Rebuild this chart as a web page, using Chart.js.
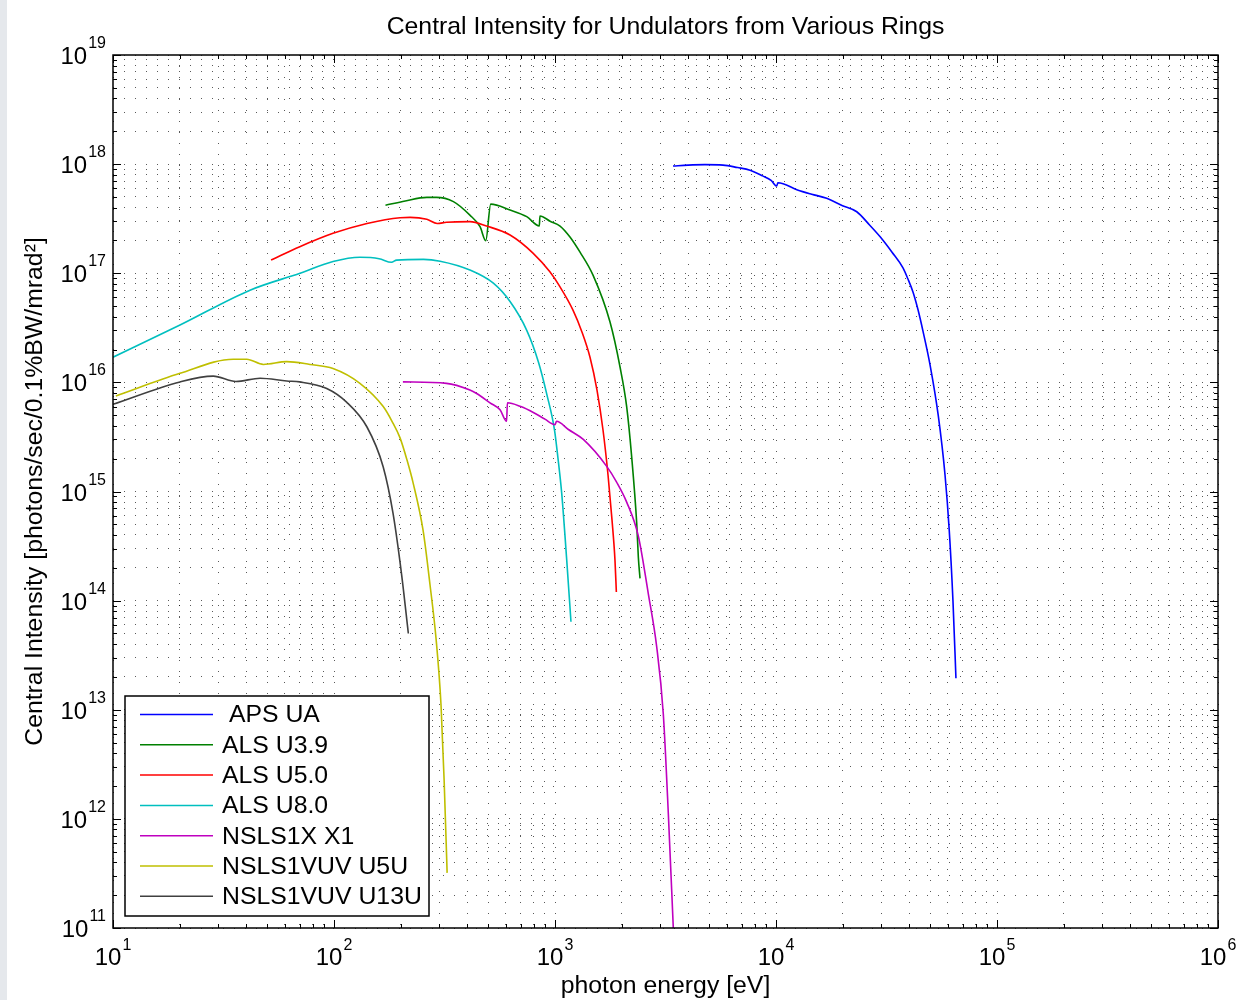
<!DOCTYPE html>
<html>
<head>
<meta charset="utf-8">
<title>Central Intensity for Undulators from Various Rings</title>
<script src="https://cdn.jsdelivr.net/npm/chart.js@4.4.1/dist/chart.umd.min.js"></script>
<style>
  html, body { margin: 0; padding: 0; }
  body { width: 1239px; height: 1000px; background: linear-gradient(to right, #e5e8ec 0, #e5e8ec 7px, #ffffff 7px); }
  #wrap { position: relative; width: 1239px; height: 1000px; }
</style>
</head>
<body>
<div id="wrap"><canvas id="chart" width="1239" height="1000"></canvas></div>
<script>
const FONT = '"Liberation Sans", Arial, Helvetica, sans-serif';

// axis decades (exponents of 10) and minor steps
const xDecades = [1, 2, 3, 4, 5, 6];
const yDecades = [11, 12, 13, 14, 15, 16, 17, 18, 19];
const minorSteps = [2, 3, 4, 5, 6, 7, 8, 9];

const seriesLabels = [' APS UA', 'ALS U3.9', 'ALS U5.0', 'ALS U8.0', 'NSLS1X X1', 'NSLS1VUV U5U', 'NSLS1VUV U13U'];
const seriesColors = ['#0000ff', '#008000', '#ff0000', '#00bfbf', '#bf00bf', '#bfbf00', '#404040'];

// APS UA
const apsX = [3420, 4000, 4770, 5760, 6700, 7630, 8700, 9500, 10070, 10200, 12500, 14500, 16950, 20000, 23200, 26500, 29600, 33500, 37550, 39550, 41700, 43950, 46240, 49800, 54200, 58200, 60800, 63200, 65200];
const apsY = [9.6e17, 9.8e17, 9.9e17, 9.8e17, 9.3e17, 8.8e17, 7.8e17, 7.1e17, 6.3e17, 6.75e17, 5.8e17, 5.3e17, 4.86e17, 4.16e17, 3.66e17, 2.77e17, 2.16e17, 1.56e17, 1.12e17, 8.85e16, 6.7e16, 4.6e16, 2.95e16, 1.44e16, 5.0e15, 1.41e15, 4.4e14, 1.0e14, 1.94e13];

// ALS U3.9
const u39X = [171, 210, 263, 291, 347, 412, 458, 486, 512, 626, 745, 849, 855, 950, 1054, 1169, 1298, 1486, 1774, 1968, 2110, 2222, 2343, 2383, 2425];
const u39Y = [4.2e17, 4.6e17, 4.96e17, 4.96e17, 4.53e17, 3.41e17, 2.67e17, 1.99e17, 4.3e17, 3.8e17, 3.3e17, 2.71e17, 3.35e17, 3.0e17, 2.71e17, 2.15e17, 1.56e17, 9.6e16, 3.57e16, 1.39e16, 6.0e15, 2.1e15, 5.1e14, 2.5e14, 1.6e14];

// ALS U5.0
const u50X = [51.9, 70, 99, 141, 199, 221, 263, 293, 323, 412, 490, 626, 795, 948, 1054, 1206, 1324, 1440, 1549, 1649, 1738, 1811, 1868, 1895];
const u50Y = [1.32e17, 1.75e17, 2.32e17, 2.86e17, 3.23e17, 3.25e17, 3.12e17, 2.86e17, 2.93e17, 2.97e17, 2.71e17, 2.24e17, 1.53e17, 1.03e17, 7.5e16, 4.6e16, 2.9e16, 1.7e16, 8.5e15, 3.66e15, 1.41e15, 5.5e14, 2.35e14, 1.2e14];

// ALS U8.0
const u80X = [10, 20.1, 41.7, 70.2, 99, 131, 160, 182, 192, 254, 302, 412, 526, 626, 745, 842, 920, 995, 1032, 1072, 1130, 1181];
const u80Y = [1.7e16, 3.35e16, 7.0e16, 1.0e17, 1.28e17, 1.4e17, 1.36e17, 1.26e17, 1.32e17, 1.34e17, 1.29e17, 1.07e17, 8.1e16, 5.5e16, 3.0e16, 1.53e16, 7.65e15, 3.66e15, 2.0e15, 9.7e14, 2.35e14, 6.4e13];

// NSLS1X X1
const x1X = [205, 323, 412, 442, 508, 564, 604, 609, 700, 798, 900, 1000, 1016, 1150, 1343, 1714, 1900, 2110, 2383, 2643, 2884, 3090, 3258, 3430];
const x1Y = [1.01e16, 9.8e15, 8.5e15, 7.9e15, 6.5e15, 5.6e15, 4.4e15, 6.5e15, 6.0e15, 5.3e15, 4.6e15, 4.1e15, 4.4e15, 3.7e15, 3.0e15, 1.7e15, 1.22e15, 8.0e14, 3.9e14, 1.16e14, 3.8e13, 9.2e12, 1.1e12, 1e11];

// NSLS1VUV U5U
const u5uX = [10.3, 20.1, 35.0, 40.3, 47.9, 61.1, 77.9, 99, 131, 167, 183, 199, 214, 228, 253, 272, 290, 305, 315, 325];
const u5uY = [7.5e15, 1.21e16, 1.63e16, 1.63e16, 1.46e16, 1.55e16, 1.46e16, 1.34e16, 9.8e15, 6.0e15, 4.4e15, 3.1e15, 1.94e15, 1.2e15, 4.4e14, 1.39e14, 4.35e13, 1.1e13, 2.26e12, 3.2e11];

// NSLS1VUV U13U
const u13uX = [10, 20.1, 28.4, 36.0, 46.3, 61.1, 70, 92.7, 114, 141, 167, 185, 202, 217];
const u13uY = [6.3e15, 1.01e16, 1.14e16, 1.02e16, 1.09e16, 1.03e16, 1.01e16, 8.8e15, 6.6e15, 3.9e15, 1.68e15, 6.3e14, 1.77e14, 5.0e13];

const seriesX = [apsX, u39X, u50X, u80X, x1X, u5uX, u13uX];
const seriesY = [apsY, u39Y, u50Y, u80Y, x1Y, u5uY, u13uY];

// tick lists: decades are major, 2..9 are minor
function logTicks(decades) {
    let ticks = [];
    decades.forEach((d, i) => {
        ticks.push({ value: Math.pow(10, d), major: true, exp: d });
        if (i < decades.length - 1) {
            minorSteps.forEach(m => ticks.push({ value: m * Math.pow(10, d), major: false }));
        }
    });
    return ticks;
}
const xTicks = logTicks(xDecades);
const yTicks = logTicks(yDecades);

const datasets = seriesLabels.map((label, i) => ({
    label: label,
    data: seriesX[i].map((x, j) => ({ x: x, y: seriesY[i][j] })),
    borderColor: seriesColors[i],
    backgroundColor: seriesColors[i],
    borderWidth: 1.6,
    pointRadius: 0,
    fill: false,
    cubicInterpolationMode: 'monotone',
    order: -i
}));

// box, inward ticks, superscript tick labels and legend, matlab style
const axesBox = {
    id: 'axesBox',
    afterDraw(chart) {
        const { ctx, chartArea: a, scales } = chart;
        const xs = scales.x, ys = scales.y;
        ctx.save();
        ctx.strokeStyle = '#000';
        ctx.lineWidth = 1;
        ctx.beginPath();
        xTicks.forEach(t => {
            const px = Math.round(xs.getPixelForValue(t.value)) + 0.5;
            const len = t.major ? 8 : 4;
            ctx.moveTo(px, a.bottom); ctx.lineTo(px, a.bottom - len);
            ctx.moveTo(px, a.top); ctx.lineTo(px, a.top + len);
        });
        yTicks.forEach(t => {
            const py = Math.round(ys.getPixelForValue(t.value)) + 0.5;
            const len = t.major ? 8 : 4;
            ctx.moveTo(a.left, py); ctx.lineTo(a.left + len, py);
            ctx.moveTo(a.right, py); ctx.lineTo(a.right - len, py);
        });
        ctx.stroke();

        ctx.lineWidth = 1.5;
        ctx.strokeRect(a.left, a.top, a.right - a.left, a.bottom - a.top);

        // tick labels 10^n
        ctx.fillStyle = '#000';
        ctx.textBaseline = 'alphabetic';
        ctx.textAlign = 'left';
        const baseFont = '24px ' + FONT;
        const expFont = '16px ' + FONT;
        xTicks.filter(t => t.major).forEach(t => {
            const px = xs.getPixelForValue(t.value);
            ctx.font = baseFont;
            const wb = ctx.measureText('10').width;
            ctx.font = expFont;
            const we = ctx.measureText(String(t.exp)).width;
            const start = px - (wb + we + 1) / 2;
            ctx.font = baseFont;
            ctx.fillText('10', start, a.bottom + 37);
            ctx.font = expFont;
            ctx.fillText(String(t.exp), start + wb + 1, a.bottom + 22);
        });
        yTicks.filter(t => t.major).forEach(t => {
            const py = ys.getPixelForValue(t.value);
            ctx.font = expFont;
            const we = ctx.measureText(String(t.exp)).width;
            const right = a.left - 7;
            ctx.fillText(String(t.exp), right - we, py - 7);
            ctx.font = baseFont;
            const wb = ctx.measureText('10').width;
            ctx.fillText('10', right - we - 1 - wb, py + 9);
        });

        // legend
        const lx = a.left + 12, lw = 304, lh = 220;
        const ly = a.bottom - 12 - lh;
        ctx.fillStyle = '#fff';
        ctx.fillRect(lx, ly, lw, lh);
        ctx.lineWidth = 1.5;
        ctx.strokeStyle = '#000';
        ctx.strokeRect(lx, ly, lw, lh);
        ctx.font = '24.8px ' + FONT;
        ctx.textBaseline = 'middle';
        chart.data.datasets.forEach((ds, i) => {
            const rowY = ly + 18.5 + i * 30.3;
            ctx.strokeStyle = ds.borderColor;
            ctx.lineWidth = 1.5;
            ctx.beginPath();
            ctx.moveTo(lx + 15, rowY);
            ctx.lineTo(lx + 88, rowY);
            ctx.stroke();
            ctx.fillStyle = '#000';
            ctx.fillText(ds.label, lx + 97, rowY + 1);
        });
        ctx.restore();
    }
};

const gridOpts = { color: 'rgba(0,0,0,0.65)', lineWidth: 1, drawTicks: false, borderDash: [1, 10] };

const chart = new Chart(document.getElementById('chart'), {
    type: 'line',
    data: { datasets: datasets },
    options: {
        responsive: false,
        animation: false,
        events: [],
        layout: { padding: { top: 0, right: 21, bottom: 0, left: 0 } },
        plugins: {
            legend: { display: false },
            tooltip: { enabled: false },
            title: {
                display: true,
                fullSize: false,
                text: 'Central Intensity for Undulators from Various Rings',
                color: '#000',
                font: { family: FONT, size: 24.8, weight: 'normal', lineHeight: 1.2 },
                padding: { top: 12.5, bottom: 12.74 }
            }
        },
        scales: {
            x: {
                type: 'logarithmic',
                min: 10,
                max: 1e6,
                afterBuildTicks: s => { s.ticks = xTicks.map(t => ({ value: t.value, major: t.major })); },
                afterFit: s => { s.height = 72; },
                ticks: { display: false, autoSkip: false },
                grid: gridOpts,
                border: { display: false, dash: [1, 10] },
                title: {
                    display: true,
                    text: 'photon energy [eV]',
                    color: '#000',
                    font: { family: FONT, size: 24.8, weight: 'normal', lineHeight: 1 },
                    padding: { top: 0, bottom: 1 }
                }
            },
            y: {
                type: 'logarithmic',
                min: 1e11,
                max: 1e19,
                afterBuildTicks: s => { s.ticks = yTicks.map(t => ({ value: t.value, major: t.major })); },
                afterFit: s => { s.width = 113; },
                ticks: { display: false, autoSkip: false },
                grid: gridOpts,
                border: { display: false, dash: [1, 10] },
                title: {
                    display: true,
                    text: 'Central Intensity [photons/sec/0.1%BW/mrad²]',
                    color: '#000',
                    font: { family: FONT, size: 24.8, weight: 'normal', lineHeight: 1.2 },
                    padding: { top: 20.2, bottom: 0 }
                }
            }
        }
    },
    plugins: [axesBox]
});
</script>
</body>
</html>
